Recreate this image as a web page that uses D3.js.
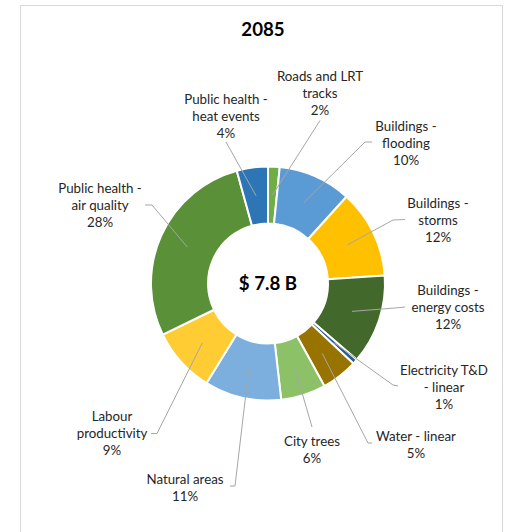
<!DOCTYPE html>
<html>
<head>
<meta charset="utf-8">
<script src="https://cdn.jsdelivr.net/npm/d3@7/dist/d3.min.js"></script>
<style>
  html, body { margin: 0; padding: 0; background: #fff; }
  svg { display: block; }
  text { font-family: Lato, "Open Sans", "Liberation Sans", sans-serif; fill: #262626; }
</style>
</head>
<body>
<svg id="chart" width="506" height="532"></svg>
<script>
// Cost shares for 2085 (percent of total), clockwise from 12 o'clock
const categories = [
  ["Roads and LRT", "tracks"],
  ["Buildings -", "flooding"],
  ["Buildings -", "storms"],
  ["Buildings -", "energy costs"],
  ["Electricity T&D", "- linear"],
  ["Water - linear"],
  ["City trees"],
  ["Natural areas"],
  ["Labour", "productivity"],
  ["Public health -", "air quality"],
  ["Public health -", "heat events"]
];
const shares = [1.6, 10.1, 12.2, 12.4, 0.7, 5.0, 6.2, 10.6, 9.0, 27.9, 4.3];
const colors = ["#70AD47", "#5B9BD5", "#FFC000", "#43682B", "#255E91", "#997300",
                "#8CC168", "#7CAFDD", "#FFCD33", "#5A9038", "#2E75B6"];
const chartTitle = "2085";
const totalBillions = 7.8;

// Label block centres and leader line paths, relative to the donut centre
const labelCenters = [[52, -190.5], [138, -140.5], [170, -63.5], [180, 23.5], [176, 103.5],
                      [148, 161], [44, 166], [-83, 204], [-156, 150], [-168, -78.5], [-42, -167.5]];
const leaderPaths = [
  [[52, -163]],
  [[97, -141.5], [104, -141.5]],
  [[125, -63.5], [137, -64]],
  [[127, 24.5], [137, 23.5]],
  [[125, 101.5], [130, 102.5]],
  [[100, 159.5], [104, 159.5]],
  [[44, 143.5]],
  [[-33, 202.5], [-38, 202.5]],
  [[-111, 150], [-117, 150]],
  [[-116, -78.5], [-123, -78.5]],
  [[-42, -141.5]]
];

const svg = d3.select("#chart");
const cx = 268, cy = 283.5;
const outerR = 117, innerR = 60;

// chart area frame
svg.append("rect")
  .attr("x", 20.5).attr("y", 5.5)
  .attr("width", 482).attr("height", 540)
  .attr("fill", "#fff").attr("stroke", "#D9D9D9").attr("stroke-width", 1);

svg.append("text")
  .attr("x", 263).attr("y", 36)
  .attr("text-anchor", "middle")
  .style("font-size", "18.7px").style("font-weight", "bold")
  .style("fill", "#000")
  .text(chartTitle);

const data = categories.map((c, i) => ({ lines: c, value: shares[i], color: colors[i], i }));
const total = d3.sum(shares);
const pct = d3.format(".0%");

const pie = d3.pie().value(d => d.value).sort(null);
const arcs = pie(data);
const arc = d3.arc().innerRadius(innerR).outerRadius(outerR);
const midArc = d3.arc().innerRadius((innerR + outerR) / 2).outerRadius((innerR + outerR) / 2);

const g = svg.append("g").attr("transform", `translate(${cx},${cy})`);

g.selectAll("path.slice")
  .data(arcs)
  .join("path")
  .attr("class", "slice")
  .attr("d", arc)
  .attr("fill", d => d.data.color)
  .attr("stroke", "#fff")
  .attr("stroke-width", 2)
  .attr("stroke-linejoin", "round");

// leader lines from slice middle to label
g.selectAll("polyline.leader")
  .data(arcs)
  .join("polyline")
  .attr("class", "leader")
  .attr("points", d => [midArc.centroid(d), ...leaderPaths[d.data.i]].map(p => p.join(",")).join(" "))
  .attr("fill", "none")
  .attr("stroke", "#A6A6A6")
  .attr("stroke-width", 1);

// data labels: category name lines followed by share
const lineH = 17;
const labels = g.selectAll("text.label")
  .data(arcs)
  .join("text")
  .attr("class", "label")
  .attr("text-anchor", "middle")
  .style("font-size", "13.3px");

labels.each(function(d) {
  const lines = d.data.lines.concat([pct(d.data.value / total)]);
  const [lx, ly] = labelCenters[d.data.i];
  const top = ly - (lines.length - 1) * lineH / 2;
  const t = d3.select(this);
  lines.forEach((s, k) => {
    t.append("tspan")
      .attr("x", lx)
      .attr("y", top + k * lineH)
      .attr("dy", "0.35em")
      .text(s);
  });
});

// total in the donut hole
g.append("text")
  .attr("text-anchor", "middle")
  .attr("dy", "0.35em")
  .style("font-size", "18.7px").style("font-weight", "bold")
  .style("fill", "#000")
  .text(`$ ${totalBillions} B`);
</script>
</body>
</html>
